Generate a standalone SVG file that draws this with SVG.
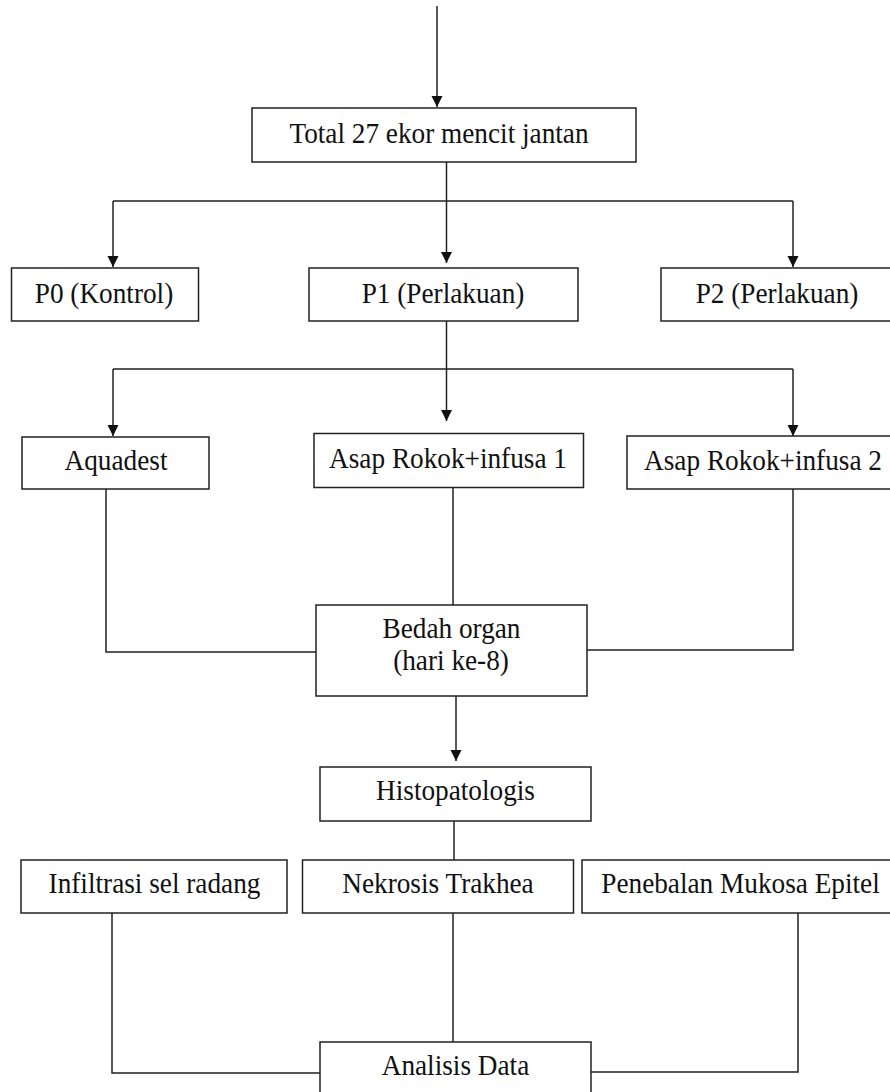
<svg xmlns="http://www.w3.org/2000/svg" width="890" height="1092" viewBox="0 0 890 1092">
<style>
.box{fill:#fff;stroke:#222;stroke-width:1.5}
.ln{fill:none;stroke:#222;stroke-width:1.5}
.arr{marker-end:url(#ah)}
text{font-family:"Liberation Serif","Times New Roman",serif;font-size:29px;fill:#111;text-anchor:middle}
</style>
<defs>
<marker id="ah" markerUnits="userSpaceOnUse" markerWidth="12" markerHeight="12" refX="11" refY="5.5" orient="auto">
<path d="M0,0 L11,5.5 L0,11 z" fill="#111"/>
</marker>
</defs>
<rect width="890" height="1092" fill="#fff"/>
<g id="connectors">
<path class="ln arr" d="M437 6 V107"/>
<path class="ln" d="M446.5 162 V201 M113 201 H793"/>
<path class="ln arr" d="M113 201 V267"/>
<path class="ln arr" d="M446.5 201 V263"/>
<path class="ln arr" d="M793 201 V267"/>
<path class="ln" d="M446.5 321 V369 M113 369 H793"/>
<path class="ln arr" d="M113 369 V436"/>
<path class="ln arr" d="M446.5 369 V421"/>
<path class="ln arr" d="M793 369 V436"/>
<path class="ln" d="M106 489 V652 H316"/>
<path class="ln" d="M453 488 V605"/>
<path class="ln" d="M793 489 V650 H587"/>
<path class="ln arr" d="M456 696 V761"/>
<path class="ln" d="M454 821 V860"/>
<path class="ln" d="M112 913 V1073 H320"/>
<path class="ln" d="M453 913 V1042"/>
<path class="ln" d="M798 913 V1072 H591"/>
</g>
<g id="total"><rect class="box" x="252" y="108" width="384" height="54"/><text transform="translate(439 143) scale(.94 1)">Total 27 ekor mencit jantan</text></g>
<g id="p0"><rect class="box" x="11.5" y="268" width="187" height="53"/><text transform="translate(104 303) scale(.94 1)">P0 (Kontrol)</text></g>
<g id="p1"><rect class="box" x="309" y="268" width="269" height="53"/><text transform="translate(443 303) scale(.94 1)">P1 (Perlakuan)</text></g>
<g id="p2"><rect class="box" x="661" y="268" width="240" height="53"/><text transform="translate(777 303) scale(.94 1)">P2 (Perlakuan)</text></g>
<g id="aquadest"><rect class="box" x="22" y="437" width="187" height="52"/><text transform="translate(116 470) scale(.94 1)">Aquadest</text></g>
<g id="asap1"><rect class="box" x="314" y="433.5" width="269.5" height="54"/><text transform="translate(448 468) scale(.94 1)">Asap Rokok+infusa 1</text></g>
<g id="asap2"><rect class="box" x="627" y="436" width="280" height="53"/><text transform="translate(763 470) scale(.94 1)">Asap Rokok+infusa 2</text></g>
<g id="bedah"><rect class="box" x="316" y="605" width="271" height="91"/><text transform="translate(451.5 638) scale(.94 1)">Bedah organ</text><text transform="translate(451 670) scale(.94 1)">(hari ke-8)</text></g>
<g id="histo"><rect class="box" x="320" y="767" width="271" height="54"/><text transform="translate(455.5 800) scale(.94 1)">Histopatologis</text></g>
<g id="infiltrasi"><rect class="box" x="21" y="860" width="266" height="53"/><text transform="translate(154.5 893) scale(.94 1)">Infiltrasi sel radang</text></g>
<g id="nekrosis"><rect class="box" x="302.5" y="860" width="271" height="53"/><text transform="translate(438 893) scale(.94 1)">Nekrosis Trakhea</text></g>
<g id="penebalan"><rect class="box" x="582" y="860" width="320" height="53"/><text transform="translate(740.5 893) scale(.94 1)">Penebalan Mukosa Epitel</text></g>
<g id="analisis"><rect class="box" x="320" y="1042" width="271" height="60"/><text transform="translate(455.5 1075) scale(.94 1)">Analisis Data</text></g>
</svg>
